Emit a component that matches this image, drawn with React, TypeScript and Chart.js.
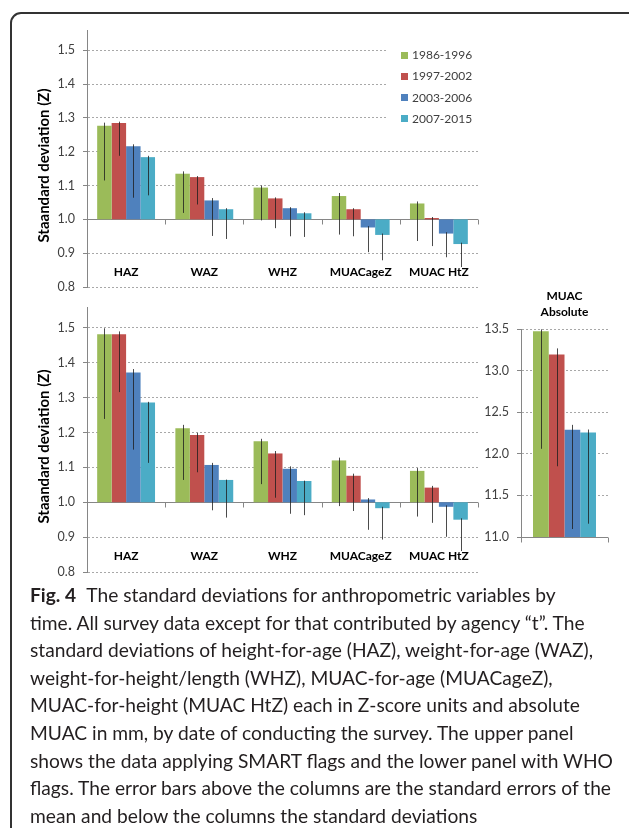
import React, { useEffect, useLayoutEffect, useRef } from 'react';
import { Chart, registerables } from 'chart.js';

Chart.register(...registerables);
Chart.defaults.font.family = 'Lato, "Liberation Sans", sans-serif';

// ---------------- data ----------------
const categories = ['HAZ', 'WAZ', 'WHZ', 'MUACageZ', 'MUAC HtZ'];
const periods = ['1986-1996', '1997-2002', '2003-2006', '2007-2015'];
const periodColors = ['#9bbb59', '#c0504d', '#4f81bd', '#4bacc6'];

// Upper panel (SMART flags): SD per period (rows) and variable (columns)
const smartSD = [
  [1.277, 1.135, 1.094, 1.069, 1.047],
  [1.285, 1.125, 1.062, 1.030, 1.004],
  [1.216, 1.056, 1.033, 0.976, 0.958],
  [1.184, 1.030, 1.018, 0.954, 0.927],
];
// top of error bar (value + standard error)
const smartUpper = [
  [1.286, 1.142, 1.100, 1.078, 1.053],
  [1.289, 1.128, 1.065, 1.033, 1.007],
  [1.222, 1.063, 1.036, 0.980, 0.962],
  [1.188, 1.033, 1.021, 0.958, 0.931],
];
// bottom of error bar (value - standard deviation)
const smartLower = [
  [1.115, 1.019, 0.997, 0.955, 0.936],
  [1.188, 1.044, 0.974, 0.950, 0.921],
  [1.064, 0.951, 0.950, 0.903, 0.888],
  [1.071, 0.942, 0.948, 0.879, 0.859],
];

// Lower panel (WHO flags)
const whoSD = [
  [1.482, 1.212, 1.175, 1.120, 1.090],
  [1.482, 1.193, 1.140, 1.076, 1.042],
  [1.372, 1.107, 1.096, 1.008, 0.987],
  [1.286, 1.064, 1.061, 0.983, 0.950],
];
const whoUpper = [
  [1.499, 1.222, 1.182, 1.128, 1.098],
  [1.490, 1.199, 1.147, 1.082, 1.047],
  [1.382, 1.113, 1.103, 1.012, 0.991],
  [1.288, 1.065, 1.062, 0.987, 0.954],
];
const whoLower = [
  [1.239, 1.064, 1.052, 0.989, 0.959],
  [1.316, 1.086, 1.013, 0.975, 0.941],
  [1.151, 0.977, 0.967, 0.921, 0.901],
  [1.113, 0.956, 0.963, 0.893, 0.860],
];

// MUAC absolute (one group, one value per period)
const muacAbs = [13.472, 13.195, 12.288, 12.256];
const muacAbsUpper = [13.496, 13.267, 12.348, 12.292];
const muacAbsLower = [12.06, 11.85, 11.096, 11.16];

// axes
const zAxisMin = 0.8;
const zAxisMax = 1.56;
const zAxisStep = 0.1;
const zBase = 1.0;
const muacAxisMin = 11.0;
const muacAxisMax = 13.5;
const muacAxisStep = 0.5;

const yTitle = 'Staandard deviation (Z)';
const muacTitle = ['MUAC', 'Absolute'];

const captionLead = 'Fig. 4';
const captionLines = [
  'The standard deviations for anthropometric variables by',
  'time. All survey data except for that contributed by agency \u201ct\u201d. The',
  'standard deviations of height-for-age (HAZ), weight-for-age (WAZ),',
  'weight-for-height/length (WHZ), MUAC-for-age (MUACageZ),',
  'MUAC-for-height (MUAC HtZ) each in Z-score units and absolute',
  'MUAC in mm, by date of conducting the survey. The upper panel',
  'shows the data applying SMART flags and the lower panel with WHO',
  'flags. The error bars above the columns are the standard errors of the',
  'mean and below the columns the standard deviations',
];
// target width of the widest caption lines (layout)
const captionFullWidth = 582;

// ---------------- chart helper ----------------
type PanelCfg = {
  labels: string[];
  values: number[][];
  upper: number[][];
  lower: number[][];
  base: number;
  min: number;
  max: number;
  step: number;
  padding: { left: number; top: number; right: number; bottom: number };
  yWidth: number;
  catPct: number;
  yTitle?: string;
  topTitle?: string[];
  legend?: boolean;
  catLabelValue?: number;
};

function makePanel(canvas: HTMLCanvasElement, cfg: PanelCfg) {
  const datasets = periods.map((p, i) => ({
    label: p,
    data: cfg.values[i].map((v) => [cfg.base, v]),
    backgroundColor: periodColors[i],
    borderWidth: 0,
    categoryPercentage: cfg.catPct,
    barPercentage: 1,
  }));

  const decor = {
    id: 'panelDecor',
    beforeDatasetsDraw(chart: any) {
      const { ctx, chartArea: ca } = chart;
      const x = chart.scales.x;
      const y = chart.scales.y;
      const y0 = Math.round(y.getPixelForValue(cfg.base)) + 0.5;
      ctx.save();
      ctx.strokeStyle = '#868686';
      ctx.lineWidth = 1;
      ctx.beginPath();
      ctx.moveTo(ca.left, y0);
      ctx.lineTo(ca.right, y0);
      const n = cfg.labels.length;
      for (let i = 0; i <= n; i++) {
        const xb =
          i === 0
            ? ca.left
            : i === n
            ? ca.right
            : (x.getPixelForValue(i - 1) + x.getPixelForValue(i)) / 2;
        const px = Math.round(xb) + 0.5;
        ctx.moveTo(px, y0);
        ctx.lineTo(px, y0 + 5);
      }
      ctx.stroke();
      ctx.restore();
    },
    afterDatasetsDraw(chart: any) {
      const { ctx } = chart;
      const y = chart.scales.y;
      ctx.save();
      ctx.strokeStyle = 'rgba(30,30,30,0.8)';
      ctx.lineWidth = 1;
      chart.data.datasets.forEach((_ds: any, di: number) => {
        const meta = chart.getDatasetMeta(di);
        meta.data.forEach((bar: any, j: number) => {
          const px = Math.round(bar.x) + 0.5;
          ctx.beginPath();
          ctx.moveTo(px, y.getPixelForValue(cfg.upper[di][j]));
          ctx.lineTo(px, y.getPixelForValue(cfg.lower[di][j]));
          ctx.stroke();
        });
      });
      ctx.restore();
    },
    afterDraw(chart: any) {
      const { ctx, chartArea: ca } = chart;
      const x = chart.scales.x;
      const y = chart.scales.y;
      ctx.save();
      // category labels inside the plot
      if (cfg.catLabelValue !== undefined) {
        ctx.font = 'bold 12px Lato';
        ctx.fillStyle = '#000';
        ctx.textAlign = 'center';
        ctx.textBaseline = 'middle';
        const ly = y.getPixelForValue(cfg.catLabelValue);
        cfg.labels.forEach((l, i) => ctx.fillText(l, x.getPixelForValue(i), ly));
      }
      // rotated y title
      if (cfg.yTitle) {
        ctx.save();
        ctx.translate(44, (ca.top + ca.bottom) / 2 + 7);
        ctx.rotate(-Math.PI / 2);
        ctx.font = 'bold 15px Lato';
        ctx.fillStyle = '#000';
        ctx.textAlign = 'center';
        ctx.textBaseline = 'middle';
        ctx.fillText(cfg.yTitle, 0, 0);
        ctx.restore();
      }
      // title above the small panel
      if (cfg.topTitle) {
        ctx.font = 'bold 12px Lato';
        ctx.fillStyle = '#000';
        ctx.textAlign = 'center';
        ctx.textBaseline = 'middle';
        const cx = (ca.left + ca.right) / 2;
        cfg.topTitle.forEach((t, i) => ctx.fillText(t, cx, ca.top - 33 + i * 16));
      }
      // legend
      if (cfg.legend) {
        const left = ca.right - 92;
        ctx.fillStyle = '#fff';
        ctx.fillRect(left, ca.top + 8, ca.right - left + 2, y.getPixelForValue(1.25) - ca.top - 8);
        ctx.font = '12px Lato';
        ctx.textAlign = 'left';
        ctx.textBaseline = 'middle';
        periods.forEach((p, i) => {
          const cy = ca.top + 25 + i * 21.1;
          ctx.fillStyle = periodColors[i];
          ctx.fillRect(ca.right - 77, Math.round(cy - 3.5), 7, 7);
          ctx.fillStyle = '#404040';
          ctx.fillText(p, ca.right - 66, cy + 0.5);
        });
      }
      ctx.restore();
    },
  };

  return new Chart(canvas, {
    type: 'bar',
    data: { labels: cfg.labels, datasets: datasets as any },
    options: {
      responsive: false,
      animation: false,
      events: [],
      layout: { padding: cfg.padding },
      plugins: {
        legend: { display: false },
        tooltip: { enabled: false },
        title: { display: false },
      },
      scales: {
        x: { display: false, offset: true },
        y: {
          min: cfg.min,
          max: cfg.max,
          afterFit: (s: any) => {
            s.width = cfg.yWidth;
          },
          ticks: {
            stepSize: cfg.step,
            includeBounds: false,
            color: '#404040',
            font: { size: 12.5 },
            padding: 8,
            callback: (v: any) => Number(v).toFixed(1),
          },
          grid: {
            color: (c: any) =>
              c.tick && Math.abs(c.tick.value - cfg.base) < 1e-6 ? 'rgba(0,0,0,0)' : '#a8a8a8',
            tickColor: '#868686',
            tickLength: 4,
            lineWidth: 1,
          },
          border: { color: '#868686', width: 1, dash: [2, 2] },
        },
      },
    } as any,
    plugins: [decor],
  });
}

// ---------------- component ----------------
export default function App() {
  const topRef = useRef<HTMLCanvasElement>(null);
  const botRef = useRef<HTMLCanvasElement>(null);
  const absRef = useRef<HTMLCanvasElement>(null);
  const lineRefs = useRef<(HTMLSpanElement | null)[]>([]);

  useEffect(() => {
    const charts = [
      makePanel(topRef.current!, {
        labels: categories,
        values: smartSD,
        upper: smartUpper,
        lower: smartLower,
        base: zBase,
        min: zAxisMin,
        max: zAxisMax,
        step: zAxisStep,
        padding: { left: 0, top: 30, right: 12, bottom: 18 },
        yWidth: 87,
        catPct: 0.74,
        yTitle,
        legend: true,
        catLabelValue: 0.845,
      }),
      makePanel(botRef.current!, {
        labels: categories,
        values: whoSD,
        upper: whoUpper,
        lower: whoLower,
        base: zBase,
        min: zAxisMin,
        max: zAxisMax,
        step: zAxisStep,
        padding: { left: 0, top: 22, right: 12, bottom: 18 },
        yWidth: 87,
        catPct: 0.74,
        yTitle,
        catLabelValue: 0.845,
      }),
      makePanel(absRef.current!, {
        labels: [''],
        values: muacAbs.map((v) => [v]),
        upper: muacAbsUpper.map((v) => [v]),
        lower: muacAbsLower.map((v) => [v]),
        base: muacAxisMin,
        min: muacAxisMin,
        max: muacAxisMax,
        step: muacAxisStep,
        padding: { left: 0, top: 49, right: 21, bottom: 23 },
        yWidth: 51,
        catPct: 0.724,
        topTitle: muacTitle,
      }),
    ];
    return () => charts.forEach((c) => c.destroy());
  }, []);

  useLayoutEffect(() => {
    const els = lineRefs.current;
    els.forEach((el) => el && (el.style.transform = 'none'));
    const w7 = els[6] ? els[6]!.getBoundingClientRect().width : 0;
    const w8 = els[7] ? els[7]!.getBoundingClientRect().width : 0;
    if (w7 > 0 && w8 > 0) {
      const s = (2 * captionFullWidth) / (w7 + w8);
      els.forEach((el) => el && (el.style.transform = `scaleX(${s})`));
    }
  }, []);

  return (
    <div
      style={{
        position: 'absolute',
        left: 0,
        top: 0,
        width: 629,
        height: 828,
        overflow: 'hidden',
        background: '#fff',
      }}
    >
      <div
        style={{
          position: 'absolute',
          left: 10,
          top: 12,
          width: 660,
          height: 900,
          border: '2px solid #333',
          borderRadius: 11,
          boxSizing: 'border-box',
        }}
      />
      <canvas ref={topRef} width={490} height={305} style={{ position: 'absolute', left: 0, top: 0 }} />
      <canvas ref={botRef} width={490} height={305} style={{ position: 'absolute', left: 0, top: 285 }} />
      <canvas ref={absRef} width={159} height={280} style={{ position: 'absolute', left: 470, top: 280 }} />
      <div
        style={{
          position: 'absolute',
          left: 30,
          top: 581,
          fontFamily: 'Lato, sans-serif',
          fontSize: 19,
          lineHeight: '27.6px',
          color: '#231f20',
        }}
      >
        {captionLines.map((line, i) => (
          <div key={i} style={{ whiteSpace: 'nowrap', height: 27.6 }}>
            <span
              ref={(el) => {
                lineRefs.current[i] = el;
              }}
              style={{ display: 'inline-block', transformOrigin: 'left center', whiteSpace: 'nowrap' }}
            >
              {i === 0 ? (
                <>
                  <b style={{ fontWeight: 700 }}>{captionLead}</b>
                  <span style={{ marginLeft: 10 }}>{line}</span>
                </>
              ) : (
                line
              )}
            </span>
          </div>
        ))}
      </div>
    </div>
  );
}
